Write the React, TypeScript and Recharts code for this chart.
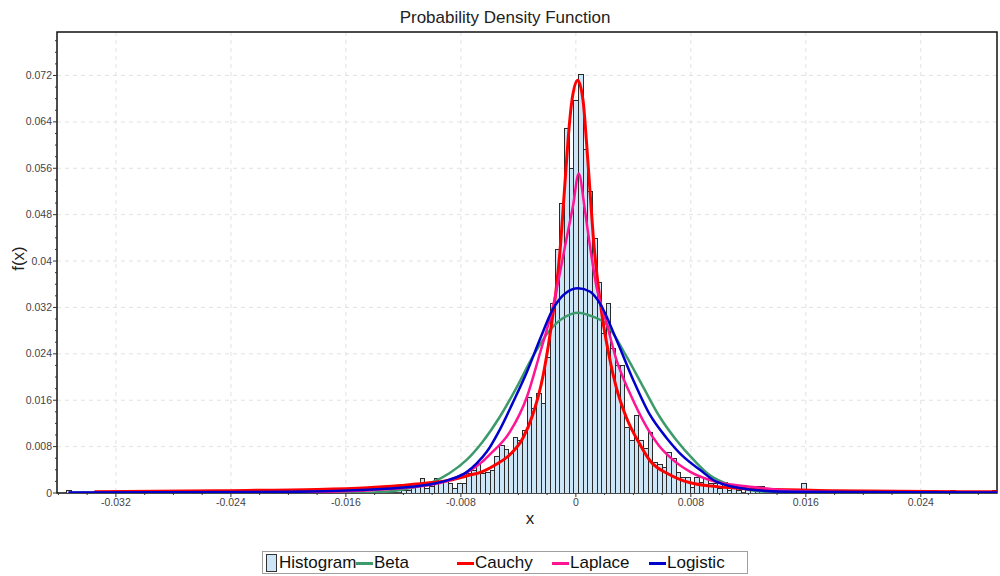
import React from 'react';
import {
  ComposedChart,
  Bar,
  Line,
  XAxis,
  YAxis,
  CartesianGrid,
  Legend,
  ReferenceArea,
} from 'recharts';

// histogram bins (relative frequency per bin)
const binStart = -0.035443;
const binWidth = 0.0003235;
const binCount = 200;

const centralFirstBin = 72;
const centralFreq = [
  0.0005, 0.0005, 0.0012, 0.0015, 0.0026, 0.0009, 0.0012, 0.0026, 0.0019, 0.0022,
  0.0017, 0.0009, 0.0017, 0.0017, 0.0034, 0.004, 0.0052, 0.0034, 0.0037, 0.004,
  0.0063, 0.0083, 0.0076, 0.0069, 0.0097, 0.0091, 0.0109, 0.0166, 0.0146, 0.0173,
  0.0155, 0.0234, 0.0327, 0.042, 0.05, 0.063, 0.056, 0.0677, 0.0723, 0.0594,
  0.052, 0.044, 0.0364, 0.0276, 0.0327, 0.025, 0.022, 0.022, 0.0114, 0.0091,
  0.0134, 0.0091, 0.0077, 0.0106, 0.0054, 0.005, 0.0045, 0.0071, 0.006, 0.0036,
  0.0028, 0.0028, 0.0011, 0.0028, 0.0019, 0.0026, 0.0017, 0.0017, 0.0009, 0.0019,
  0.0005, 0.0011, 0.0005, 0, 0.0012, 0.0009, 0.0012, 0.0012, 0.0009,
];
const tailBins = [0, 28, 30, 42, 158, 186, 190, 199];
const tailFreq = [0.0005, 0.0005, 0.0005, 0.0005, 0.0017, 0.0005, 0.0005, 0.0005];

// fitted curves: [x, f(x)]
const betaPts: [number, number][] = [
  [-0.0353, 0], [-0.016, 0], [-0.014, 0.0001], [-0.0122, 0.0005], [-0.011, 0.0011],
  [-0.00995, 0.0019], [-0.0088, 0.0034], [-0.0076, 0.0057], [-0.0065, 0.0088],
  [-0.0053, 0.0131], [-0.0041, 0.0183], [-0.003, 0.0235], [-0.0018, 0.0281],
  [-0.0008, 0.0303], [0.00016, 0.0311], [0.0011, 0.0305], [0.00214, 0.0291],
  [0.00353, 0.0235], [0.00468, 0.0183], [0.00584, 0.0131], [0.007, 0.0091],
  [0.0082, 0.0057], [0.0093, 0.0031], [0.0107, 0.0014], [0.0121, 0.0005],
  [0.014, 0.0001], [0.016, 0], [0.0293, 0],
];
const cauchyPts: [number, number][] = [
  [-0.0335, 0.0002], [-0.025, 0.0004], [-0.018, 0.0006], [-0.0145, 0.0009],
  [-0.0122, 0.0013], [-0.01, 0.0018], [-0.0088, 0.0022], [-0.0075, 0.003],
  [-0.0065, 0.0037], [-0.0055, 0.005], [-0.0046, 0.0066], [-0.0037, 0.0094],
  [-0.003, 0.0135], [-0.0023, 0.02], [-0.0018, 0.0273], [-0.0014, 0.0345],
  [-0.0011, 0.0419], [-0.0008, 0.052], [-0.00054, 0.061], [-0.0003, 0.0672],
  [0.00012, 0.0712], [0.0005, 0.0677], [0.00074, 0.0605], [0.00097, 0.0525],
  [0.0012, 0.0445], [0.0018, 0.031], [0.0023, 0.0238], [0.0028, 0.0183],
  [0.0035, 0.0131], [0.0045, 0.0082], [0.00515, 0.0056], [0.0065, 0.0032],
  [0.0079, 0.0018], [0.0098, 0.0011], [0.0121, 0.0007], [0.018, 0.0004],
  [0.0293, 0.0002],
];
const laplacePts: [number, number][] = [
  [-0.0353, 0], [-0.02, 0.0001], [-0.015, 0.0004], [-0.0122, 0.0008],
  [-0.0099, 0.0015], [-0.0088, 0.0022], [-0.0076, 0.0035], [-0.0065, 0.0054],
  [-0.006, 0.0066], [-0.0046, 0.0105], [-0.0034, 0.0166], [-0.0025, 0.0241],
  [-0.0016, 0.0321], [-0.0006, 0.0445], [-0.0002, 0.0495], [0.0002, 0.0551],
  [0.0006, 0.0493], [0.0009, 0.044], [0.00144, 0.0355], [0.00214, 0.0293],
  [0.00283, 0.0229], [0.00376, 0.0172], [0.00492, 0.0114], [0.00577, 0.0082],
  [0.00654, 0.0062], [0.00793, 0.0037], [0.0098, 0.0019], [0.0121, 0.0011],
  [0.015, 0.0004], [0.02, 0.0001], [0.0293, 0],
];
const logisticPts: [number, number][] = [
  [-0.0353, 0.0001], [-0.02, 0.0002], [-0.015, 0.0005], [-0.0122, 0.0009],
  [-0.0099, 0.0016], [-0.0088, 0.0023], [-0.0076, 0.0036], [-0.0069, 0.0051],
  [-0.0062, 0.0071], [-0.0053, 0.0109], [-0.0044, 0.0155], [-0.0034, 0.0209],
  [-0.0025, 0.0265], [-0.0016, 0.0317], [-0.0007, 0.0345], [0.00016, 0.0353],
  [0.001, 0.0347], [0.00167, 0.0327], [0.00283, 0.0264], [0.00399, 0.0195],
  [0.00515, 0.0135], [0.00631, 0.0095], [0.00746, 0.0063], [0.00863, 0.004],
  [0.0098, 0.0019], [0.0121, 0.0006], [0.015, 0.0002], [0.0293, 0.0001],
];

const xDomain: [number, number] = [-0.0361, 0.0293];
const yDomain: [number, number] = [0, 0.0795];
const xMajor = [-0.032, -0.024, -0.016, -0.008, 0, 0.008, 0.016, 0.024];
const yMajor = [0, 0.008, 0.016, 0.024, 0.032, 0.04, 0.048, 0.056, 0.064, 0.072];
const xTicks = Array.from({ length: 33 }, (_, i) => +(-0.036 + i * 0.002).toFixed(3));
const yTicks = Array.from({ length: 40 }, (_, i) => +(i * 0.002).toFixed(3));

const series = [
  { name: 'Beta', color: '#3d9a6c', pts: betaPts, width: 2.5 },
  { name: 'Cauchy', color: '#ff0000', pts: cauchyPts, width: 3 },
  { name: 'Laplace', color: '#ff1493', pts: laplacePts, width: 2.5 },
  { name: 'Logistic', color: '#0000cc', pts: logisticPts, width: 2.5 },
];

const histData = Array.from({ length: binCount }, (_, k) => {
  let freq = 0;
  const c = k - centralFirstBin;
  if (c >= 0 && c < centralFreq.length) freq = centralFreq[c];
  const t = tailBins.indexOf(k);
  if (t >= 0) freq = tailFreq[t];
  return { x: binStart + (k + 0.5) * binWidth, freq };
});

const PLOT_W = 940;
const binPx = (PLOT_W * binWidth) / (xDomain[1] - xDomain[0]);

const HIST_FILL = '#cde6f7';
const HIST_STROKE = '#2a2a2a';

const isMajor = (v: number, majors: number[]) => majors.some((m) => Math.abs(m - v) < 1e-9);
const fmt = (v: number) => (Math.abs(v) < 1e-12 ? '0' : String(+v.toFixed(3)));

const FONT = '"Liberation Sans", Arial, sans-serif';

// each bin is drawn a full bin wide, centred on the bar position Recharts gives
function HistBar(props: any) {
  const { x, y, width, height } = props;
  if (!height || height <= 0) return <g />;
  const cx = x + width / 2;
  const left = Math.round(cx - binPx / 2);
  const right = Math.round(cx + binPx / 2);
  const top = Math.round(y);
  const bottom = Math.round(y + height);
  return (
    <rect
      x={left + 0.5}
      y={top + 0.5}
      width={right - left}
      height={Math.max(bottom - top, 1)}
      fill={HIST_FILL}
      stroke={HIST_STROKE}
      strokeWidth={1}
    />
  );
}

function XTick({ x, y, payload }: any) {
  const major = isMajor(payload.value, xMajor);
  return (
    <g>
      <line x1={x} x2={x} y1={y} y2={y + (major ? 4 : 2)} stroke="#333" />
      {major && (
        <text x={x} y={y + 13} textAnchor="middle" fontSize={10.5} fill="#444" fontFamily={FONT}>
          {fmt(payload.value)}
        </text>
      )}
    </g>
  );
}

function YTick({ x, y, payload }: any) {
  const major = isMajor(payload.value, yMajor);
  return (
    <g>
      <line x1={x - (major ? 4 : 2)} x2={x} y1={y} y2={y} stroke="#333" />
      {major && (
        <text x={x - 5} y={y + 3.5} textAnchor="end" fontSize={10.5} fill="#444" fontFamily={FONT}>
          {fmt(payload.value)}
        </text>
      )}
    </g>
  );
}

function LegendBox() {
  const slots = [3, 93, 194, 289, 386];
  return (
    <div
      style={{
        position: 'relative',
        width: 486,
        height: 23,
        border: '1px solid #a0a0a0',
        background: '#fff',
        fontFamily: FONT,
        fontSize: 17,
        color: '#111',
        boxSizing: 'border-box',
      }}
    >
      <div style={{ position: 'absolute', left: slots[0], top: 1, display: 'flex', alignItems: 'center' }}>
        <span
          style={{
            display: 'inline-block',
            width: 9,
            height: 16,
            background: HIST_FILL,
            border: '1px solid #333',
            marginRight: 2,
          }}
        />
        <span style={{ lineHeight: '20px' }}>Histogram</span>
      </div>
      {series.map((s, i) => (
        <div
          key={s.name}
          style={{ position: 'absolute', left: slots[i + 1], top: 1, display: 'flex', alignItems: 'center' }}
        >
          <span style={{ display: 'inline-block', width: 17, height: 3, background: s.color, marginRight: 1 }} />
          <span style={{ lineHeight: '20px' }}>{s.name}</span>
        </div>
      ))}
    </div>
  );
}

export default function App() {
  return (
    <div
      style={{
        position: 'absolute',
        left: 0,
        top: 0,
        width: 1000,
        height: 576,
        background: '#fff',
        fontFamily: FONT,
      }}
    >
      <div
        style={{
          position: 'absolute',
          top: 8,
          left: 0,
          width: 1010,
          textAlign: 'center',
          fontSize: 17,
          color: '#222',
        }}
      >
        Probability Density Function
      </div>
      <ComposedChart
        width={1000}
        height={576}
        data={histData}
        margin={{ top: 32, right: 3, bottom: 53, left: 0 }}
      >
        <CartesianGrid
          strokeDasharray="4 4"
          stroke="#e2e2e2"
          verticalValues={xMajor}
          horizontalValues={yMajor}
        />
        <XAxis
          dataKey="x"
          type="number"
          domain={xDomain}
          allowDataOverflow
          ticks={xTicks}
          interval={0}
          tick={<XTick />}
          tickLine={false}
          tickSize={0}
          tickMargin={0}
          axisLine={false}
          height={30}
          label={{
            content: ({ viewBox }: any) => (
              <text
                x={viewBox.x + viewBox.width / 2 + 3}
                y={viewBox.y + 31}
                textAnchor="middle"
                fontSize={17}
                fill="#222"
                fontFamily={FONT}
              >
                x
              </text>
            ),
          }}
        />
        <YAxis
          type="number"
          domain={yDomain}
          allowDataOverflow
          ticks={yTicks}
          interval={0}
          tick={<YTick />}
          tickLine={false}
          tickSize={0}
          tickMargin={0}
          axisLine={false}
          width={57}
          label={{
            content: ({ viewBox }: any) => {
              const cx = viewBox.x + 18;
              const cy = viewBox.y + viewBox.height / 2 - 4;
              return (
                <text
                  x={cx}
                  y={cy}
                  transform={`rotate(-90 ${cx} ${cy})`}
                  textAnchor="middle"
                  dominantBaseline="central"
                  fontSize={17}
                  fill="#222"
                  fontFamily={FONT}
                >
                  f(x)
                </text>
              );
            },
          }}
        />
        <Bar
          dataKey="freq"
          name="Histogram"
          fill={HIST_FILL}
          stroke={HIST_STROKE}
          shape={<HistBar />}
          isAnimationActive={false}
        />
        {series.map((s) => (
          <Line
            key={s.name}
            name={s.name}
            data={s.pts.map(([x, y]) => ({ x, y }))}
            dataKey="y"
            type="monotone"
            stroke={s.color}
            strokeWidth={s.width}
            dot={false}
            activeDot={false}
            isAnimationActive={false}
          />
        ))}
        <ReferenceArea
          x1={xDomain[0]}
          x2={xDomain[1]}
          y1={yDomain[0]}
          y2={yDomain[1]}
          fill="none"
          stroke="#111"
          strokeWidth={1.5}
          ifOverflow="visible"
        />
        <Legend
          layout="horizontal"
          verticalAlign="middle"
          align="center"
          wrapperStyle={{ top: 551, left: 262, width: 486, height: 23 }}
          content={() => <LegendBox />}
        />
      </ComposedChart>
    </div>
  );
}
